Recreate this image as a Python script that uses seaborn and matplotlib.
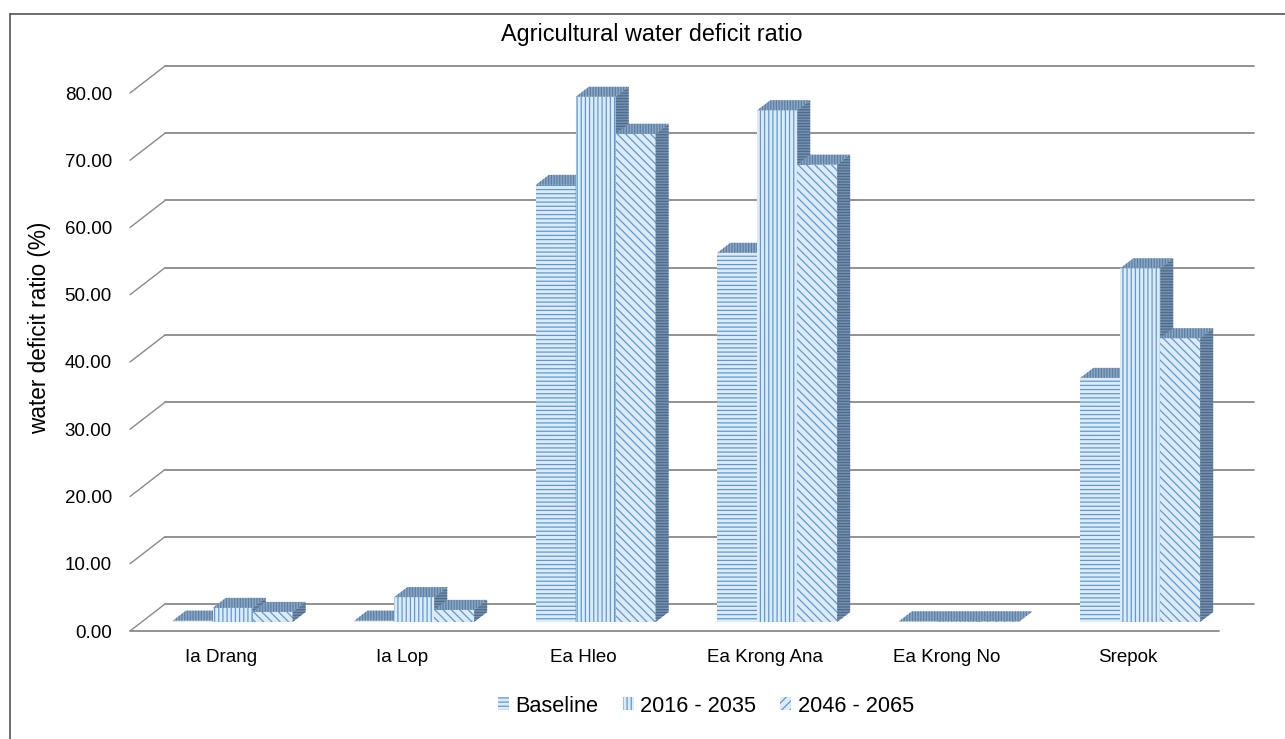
import numpy as np
import pandas as pd
import matplotlib
matplotlib.use("Agg")
import matplotlib.pyplot as plt
import matplotlib.transforms as mtrans
from matplotlib.patches import Polygon, Rectangle
import seaborn as sns

# ---- data ----
basins = ["Ia Drang", "Ia Lop", "Ea Hleo", "Ea Krong Ana", "Ea Krong No", "Srepok"]
periods = ["Baseline", "2016 - 2035", "2046 - 2065"]
baseline = [0.2, 0.2, 65.0, 54.9, 0.1, 36.3]
p2016_2035 = [2.1, 3.7, 78.1, 76.1, 0.1, 52.6]
p2046_2065 = [1.5, 1.8, 72.6, 68.0, 0.1, 42.2]
yticks = [0, 10, 20, 30, 40, 50, 60, 70, 80]
title = "Agricultural water deficit ratio"
ylabel = "water deficit ratio (%)"

df = pd.DataFrame({
    "basin": basins * 3,
    "period": [periods[0]] * 6 + [periods[1]] * 6 + [periods[2]] * 6,
    "value": baseline + p2016_2035 + p2046_2065,
})

sns.set_theme(style="white")
plt.rcParams["font.family"] = ["Liberation Sans", "DejaVu Sans"]
plt.rcParams["hatch.linewidth"] = 0.9
plt.rcParams["text.color"] = "black"
plt.rcParams["xtick.color"] = "black"
plt.rcParams["ytick.color"] = "black"

W, H, DPI = 1285, 739, 100
fig = plt.figure(figsize=(W / DPI, H / DPI), dpi=DPI)
ax = fig.add_axes([130 / W, (H - 631) / H, 1089 / W, 538 / H])

sns.barplot(data=df, x="basin", y="value", hue="period", order=basins,
            hue_order=periods, width=0.66, gap=0, ax=ax, legend=False,
            errorbar=None)
ax.set_xlim(-0.5, 5.5)
ax.set_ylim(0, 80)
for s in ax.spines.values():
    s.set_visible(False)

GRID = "#8a8a8a"
def off(dx, dy):
    return ax.transData + mtrans.ScaledTranslation(dx / DPI, dy / DPI, fig.dpi_scale_trans)

# back wall gridlines + left wall diagonals
BX, BY = 35, 27
I = mtrans.IdentityTransform()
for v in yticks:
    ax.plot([-0.5, 5.5], [v, v], color=GRID, lw=1.3, transform=off(BX, BY),
            clip_on=False, zorder=0.5)
    p0 = ax.transData.transform((-0.5, v))
    ax.add_line(plt.Line2D([p0[0], p0[0] + BX], [p0[1], p0[1] + BY], color=GRID,
                           lw=1.0, transform=I, zorder=0.5, clip_on=False))
# floor front edge
ax.plot([-0.5, 5.5], [0, 0], color=GRID, lw=1.3, clip_on=False, zorder=0.5)

# bar styling with pseudo-3D faces
hatches = ["----", "||||", "\\\\\\\\"]
legend_hatches = ["----", "||||", "////"]
FRONT_FC = "#deeaf7"
FRONT_EC = "#5b9bd5"
TOP_FC = "#8aa7c6"
TOP_EC = "#5d7fa3"
SIDE_FC = "#7590ad"
SIDE_EC = "#4e6a8a"
FX, FY = 12, 9      # bar front plane shift
DX, DY = 13, 10     # bar depth
bars = []
for k, cont in enumerate(ax.containers):
    for bar in cont.patches:
        bar.set_hatch(hatches[k])
        bars.append(bar)
bars.sort(key=lambda b: b.get_x())
for j, bar in enumerate(bars):
    z = 2 + j * 0.01
    bar.set_facecolor(FRONT_FC)
    bar.set_edgecolor(FRONT_EC)
    bar.set_linewidth(0)
    bar.set_transform(off(FX, FY))
    bar.set_clip_on(False)
    bar.set_zorder(z)
    x0, x1 = bar.get_x(), bar.get_x() + bar.get_width()
    h = bar.get_height()
    a = ax.transData.transform((x0, h)) + (FX, FY)
    b = ax.transData.transform((x1, h)) + (FX, FY)
    c = ax.transData.transform((x1, 0)) + (FX, FY)
    top = Polygon([a, b, b + (DX, DY), a + (DX, DY)], closed=True,
                  facecolor=TOP_FC, edgecolor=TOP_EC, hatch="||||||", lw=0,
                  transform=I, zorder=z + 0.001, clip_on=False)
    side = Polygon([c, b, b + (DX, DY), c + (DX, DY)], closed=True,
                   facecolor=SIDE_FC, edgecolor=SIDE_EC, hatch="------", lw=0,
                   transform=I, zorder=z + 0.001, clip_on=False)
    ax.add_patch(top)
    ax.add_patch(side)

# axes ticks
ax.set_yticks(yticks)
ax.set_yticklabels([f"{v:.2f}" for v in yticks], fontsize=13.5)
ax.tick_params(axis="y", length=0, pad=13)
ax.tick_params(axis="x", length=0, pad=13, labelsize=13.5)
ax.set_xlabel("")
ax.set_ylabel("")

fig.text(652 / W, 1 - 34 / H, title, ha="center", va="center", fontsize=16.8,
         color="black")
fig.text(40 / W, 1 - 328 / H, ylabel, ha="center", va="center", rotation=90,
         fontsize=16.3, color="black")

# legend
lh = [Rectangle((0, 0), 1, 1, facecolor=FRONT_FC, edgecolor=FRONT_EC, lw=0,
                hatch=legend_hatches[k]) for k in range(3)]
fig.legend(lh, periods, loc="center", bbox_to_anchor=(706 / W, 1 - 706 / H),
           ncol=3, frameon=False, fontsize=15.7, handlelength=0.5,
           handleheight=0.55, handletextpad=0.3, columnspacing=1.1,
           labelcolor="black")

# outer border (top and left)
fig.add_artist(plt.Line2D([10 / W, 1], [1 - 14 / H, 1 - 14 / H], color="#555555",
                          lw=1.2, transform=fig.transFigure))
fig.add_artist(plt.Line2D([10 / W, 10 / W], [0, 1 - 14 / H], color="#555555",
                          lw=1.2, transform=fig.transFigure))

fig.savefig("out.png", dpi=DPI)
